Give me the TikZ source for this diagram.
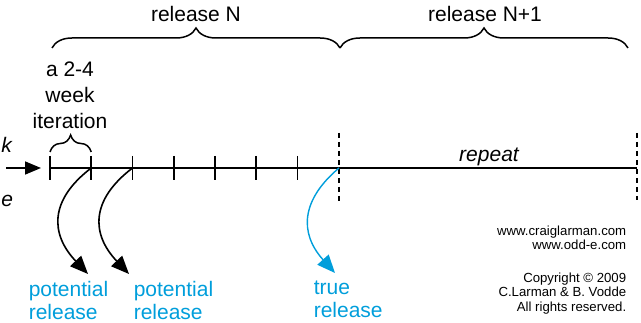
\documentclass[tikz,border=0pt]{standalone}
\usepackage{fontspec}
\setmainfont{Liberation Sans}
\usetikzlibrary{arrows.meta, decorations.pathreplacing}
\definecolor{relblue}{RGB}{0,158,219}

\begin{document}
\begin{tikzpicture}[x=1pt,y=-1pt,line width=1.6pt,
        big/.style={font=\fontsize{21}{23}\selectfont,inner sep=0pt},
        slant/.style={big,font=\fontsize{21}{23}\selectfont\itshape},
        note/.style={font=\fontsize{13.2}{14.5}\selectfont,inner sep=0pt,align=right,anchor=north east},
        cut/.style={dash pattern=on 5pt off 4pt},
        bigbrace/.style={decorate,line width=1.5pt,decoration={brace,amplitude=20pt}},
        relarrow/.style={-{Triangle[length=18pt,width=15pt]}}]
        \useasboundingbox (0,0) rectangle (641,323);

        % time line with its iteration ticks
        \foreach \i in {0,...,6}
            \coordinate (t\i) at (50+41.25*\i,168);
        \coordinate (t7) at (339,168);
        \coordinate (t8) at (637,168);
        \coordinate (start) at (6,168);
        \draw[-{Triangle[length=16pt,width=13pt]},shorten >=9pt] (start) -- (t0);
        \draw (t0) -- (t8);
        \foreach \i in {0,...,6}
            \draw ([yshift=12pt]t\i) -- ([yshift=-12pt]t\i);
        \draw[cut] ([yshift=35pt]t7) -- ([yshift=-34pt]t7);
        \draw[cut] ([yshift=35pt]t8) -- ([yshift=-32pt]t8);

        \node[slant,anchor=base west] (work) at (0.5,153) {k};
        \node[slant,anchor=base west] (time) at (0.5,207) {e};
        \node[slant,anchor=base] (repeat) at (489,162) {repeat};

        % releases
        \coordinate (b0) at (52,48);
        \coordinate (b1) at (340,48);
        \coordinate (b2) at (628,48);
        \draw[bigbrace] (b0) -- (b1);
        \draw[bigbrace] (b1) -- (b2);
        \node[big,anchor=base] (relN) at (196,22) {release N};
        \node[big,anchor=base] (relN1) at (485,22) {release N+1};

        % one iteration
        \draw[line width=1.5pt,decorate,decoration={brace,amplitude=17pt}]
            ([yshift=16pt]t0) -- ([yshift=16pt]t1);
        \node[big,font=\fontsize{21}{26}\selectfont,align=center] (iter) at (70,95) {a 2-4\\week\\iteration};

        % potential and true releases
        \node[big,relblue,align=left,anchor=north west] (pot1) at (28,280) {potential\\release};
        \node[big,relblue,align=left,anchor=north west] (pot2) at (133,280) {potential\\release};
        \node[big,relblue,align=left,anchor=north west] (true) at (313,280) {true\\release};
        \coordinate (p1) at (88,274);
        \coordinate (p2) at (129,274);
        \coordinate (p3) at (335,273);
        \draw[relarrow] (t1) .. controls +(-42,32) and +(-38,-40) .. (p1);
        \draw[relarrow] (t2) .. controls +(-42,32) and +(-38,-40) .. (p2);
        \draw[relarrow,relblue,line width=1.4pt] (t7) .. controls +(-38,32) and +(-36,-40) .. (p3);

        \node[note] (web) at (627,225) {www.craiglarman.com\\www.odd-e.com};
        \node[note] (copy) at (627,272) {Copyright © 2009\\C.Larman \& B. Vodde\\All rights reserved.};
    \end{tikzpicture}
\end{document}
